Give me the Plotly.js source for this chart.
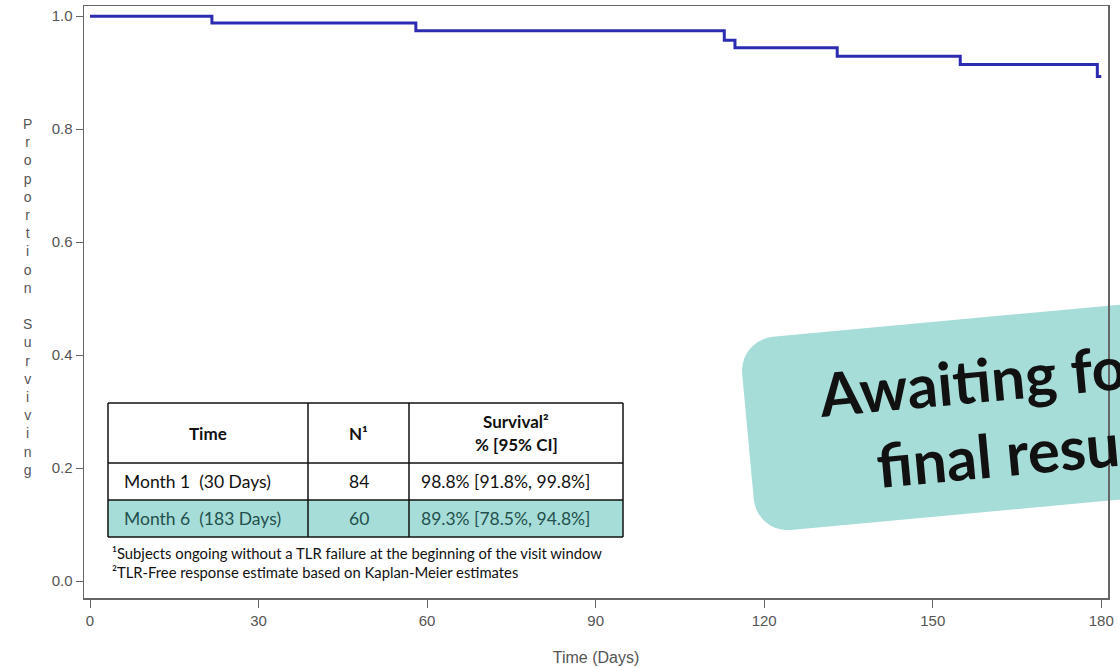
<!DOCTYPE html>
<html><head><meta charset="utf-8">
<script src="https://cdn.plot.ly/plotly-3.0.1.min.js"></script>
<style>body{margin:0;background:#fff}#chart{width:1120px;height:667px}</style>
</head><body><div id="chart"></div>
<script>
// ---- data ----
const days = [0, 21.7, 58.0, 112.9, 114.8, 133.0, 154.9, 179.3, 180.0];
const survival = [1.0, 0.988, 0.974, 0.9575, 0.944, 0.929, 0.9145, 0.893, 0.893];
const xTicks = [0, 30, 60, 90, 120, 150, 180];
const yTicks = [0, 0.2, 0.4, 0.6, 0.8, 1.0];
const tableHeader = [['Time'], ['N¹'], ['Survival²', '% [95% CI]']];
const timePoints = ['Month 1  (30 Days)', 'Month 6  (183 Days)'];
const nAtRisk = ['84', '60'];
const survivalCI = ['98.8% [91.8%, 99.8%]', '89.3% [78.5%, 94.8%]'];
const footnotes = ['¹Subjects ongoing without a TLR failure at the beginning of the visit window',
                   '²TLR-Free response estimate based on Kaplan-Meier estimates'];
const bannerLines = ['Awaiting for', 'final results'];
const yTitle = 'Proportion Surviving';
const xTitle = 'Time (Days)';

// ---- layout geometry (pixels) ----
const W = 1120, H = 667;
const M = {l: 84, r: 12, t: 6, b: 69};
const PW = W - M.l - M.r, PH = H - M.t - M.b;
const X = px => (px - M.l) / PW;
const Y = py => (H - M.b - py) / PH;

const sans = 'Liberation Sans, Arial, sans-serif';
const tblFont = 'Lato, Open Sans, sans-serif';

const shapes = [];
const annotations = [];

// table
const colEdges = [108, 308, 409, 623];
const rowEdges = [403, 463, 500, 537];
const teal = '#A7DDD8';
shapes.push({type: 'rect', xref: 'paper', yref: 'paper', layer: 'below',
  x0: X(colEdges[0]), x1: X(colEdges[3]), y0: Y(rowEdges[2]), y1: Y(rowEdges[3]),
  fillcolor: teal, line: {width: 0}});
shapes.push({type: 'rect', xref: 'paper', yref: 'paper', layer: 'below',
  x0: X(colEdges[0]), x1: X(colEdges[3]), y0: Y(rowEdges[0]), y1: Y(rowEdges[2]),
  fillcolor: '#fff', line: {width: 0}});
rowEdges.forEach(r => shapes.push({type: 'line', xref: 'paper', yref: 'paper', layer: 'above',
  x0: X(colEdges[0]), x1: X(colEdges[3]), y0: Y(r), y1: Y(r), line: {color: '#111', width: 1.5}}));
colEdges.forEach(c => shapes.push({type: 'line', xref: 'paper', yref: 'paper', layer: 'above',
  x0: X(c), x1: X(c), y0: Y(rowEdges[0]), y1: Y(rowEdges[3]), line: {color: '#111', width: 1.5}}));

// header text
tableHeader.forEach((lines, ci) => {
  const cx = (colEdges[ci] + colEdges[ci + 1]) / 2;
  const cy = (rowEdges[0] + rowEdges[1]) / 2;
  const gap = 23;
  lines.forEach((t, li) => {
    const y = cy + (li - (lines.length - 1) / 2) * gap;
    annotations.push({xref: 'paper', yref: 'paper', x: X(cx), y: Y(y), xanchor: 'center', yanchor: 'middle',
      text: '<b>' + t + '</b>', showarrow: false, font: {family: tblFont, size: 17, color: '#111'}});
  });
});
// body rows
const bodyCols = [timePoints, nAtRisk, survivalCI];
const colAlign = ['left', 'center', 'left'];
const colPad = [14, 0, 10];
timePoints.forEach((_, ri) => {
  const cy = (rowEdges[ri + 1] + rowEdges[ri + 2]) / 2;
  const color = ri === timePoints.length - 1 ? '#22504c' : '#111';
  bodyCols.forEach((col, ci) => {
    const x = colAlign[ci] === 'left' ? colEdges[ci] + colPad[ci] : (colEdges[ci] + colEdges[ci + 1]) / 2;
    annotations.push({xref: 'paper', yref: 'paper', x: X(x), y: Y(cy), xanchor: colAlign[ci], yanchor: 'middle',
      text: col[ri], showarrow: false, font: {family: tblFont, size: 17.5, color: color}});
  });
});
// footnotes
footnotes.forEach((t, i) => annotations.push({xref: 'paper', yref: 'paper', x: X(110), y: Y(553 + 19 * i),
  xanchor: 'left', yanchor: 'middle', text: t, showarrow: false, font: {family: tblFont, size: 14.8, color: '#111'}}));

// y title stacked letters
annotations.push({xref: 'paper', yref: 'paper', x: X(27), y: Y(297), xanchor: 'center', yanchor: 'middle',
  text: yTitle.split('').join('<br>'), showarrow: false, align: 'center',
  font: {family: sans, size: 14, color: '#555'}});

// banner: rotated rounded rectangle
const ang = -5.3 * Math.PI / 180;
const u = [Math.cos(ang), Math.sin(ang)];
const v = [-Math.sin(ang), Math.cos(ang)];
const TL = [739, 340], BW = 600, BH = 194, R = 34;
const pts = [];
function arc(cx, cy, a0, a1) {
  for (let k = 0; k <= 10; k++) {
    const a = a0 + (a1 - a0) * k / 10;
    pts.push([cx + R * Math.cos(a), cy + R * Math.sin(a)]);
  }
}
arc(R, R, Math.PI, 1.5 * Math.PI);
arc(BW - R, R, 1.5 * Math.PI, 2 * Math.PI);
arc(BW - R, BH - R, 0, 0.5 * Math.PI);
arc(R, BH - R, 0.5 * Math.PI, Math.PI);
const path = pts.map((p, i) => {
  const px = TL[0] + p[0] * u[0] + p[1] * v[0];
  const py = TL[1] + p[0] * u[1] + p[1] * v[1];
  return (i ? 'L' : 'M') + X(px).toFixed(5) + ',' + Y(py).toFixed(5);
}).join('') + 'Z';
shapes.push({type: 'path', xref: 'paper', yref: 'paper', layer: 'below', path: path,
  fillcolor: teal, line: {width: 0}});
const bannerCenters = [[983, 379], [1029, 451]];
bannerLines.forEach((t, i) => annotations.push({xref: 'paper', yref: 'paper',
  x: X(bannerCenters[i][0]), y: Y(bannerCenters[i][1]), xanchor: 'center', yanchor: 'middle',
  text: '<b>' + t + '</b>', textangle: -5.3, showarrow: false,
  font: {family: tblFont, size: 60, color: '#111'}}));

const trace = {x: days, y: survival, type: 'scatter', mode: 'lines',
  line: {shape: 'hv', color: 'rgb(44,44,178)', width: 3}, hoverinfo: 'skip'};

const layout = {
  width: W, height: H, margin: M, showlegend: false,
  paper_bgcolor: '#fff', plot_bgcolor: 'rgba(0,0,0,0)',
  xaxis: {range: [-1.07, 181.2], tickvals: xTicks, ticktext: xTicks.map(String), showgrid: false, zeroline: false,
    showline: true, mirror: true, linecolor: '#666', linewidth: 1.5, ticks: 'outside', ticklen: 8, tickcolor: '#666',
    tickfont: {family: sans, size: 15, color: '#555'},
    title: {text: xTitle, font: {family: sans, size: 16, color: '#555'}, standoff: 24}},
  yaxis: {range: [-0.030, 1.018], tickvals: yTicks, ticktext: yTicks.map(v => v.toFixed(1)), showgrid: false, zeroline: false,
    showline: true, mirror: true, linecolor: '#666', linewidth: 1.5, ticks: 'outside', ticklen: 7, tickcolor: '#666',
    tickfont: {family: sans, size: 15, color: '#555'}, title: {text: ''}},
  shapes: shapes, annotations: annotations
};
Plotly.newPlot('chart', [trace], layout, {displayModeBar: false, staticPlot: true});
</script></body></html>
